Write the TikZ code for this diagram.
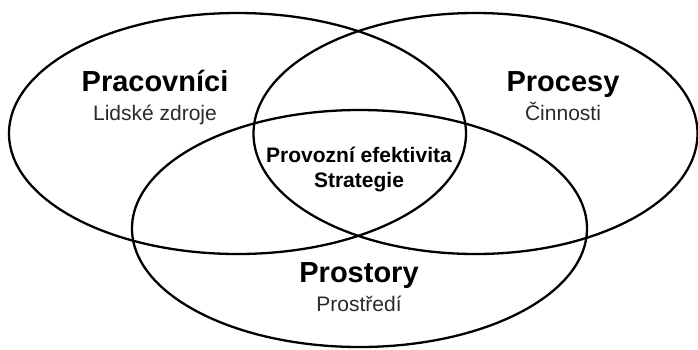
\documentclass[tikz,border=0pt]{standalone}
\usepackage{fontspec}
\setmainfont{Liberation Sans}
\definecolor{subgray}{HTML}{2A2A2A}
\begin{document}
\begin{tikzpicture}[x=1pt,y=-1pt,
  ring/.style={draw=black,line width=2.3pt},
  title/.style={anchor=base,font=\fontsize{29}{32}\selectfont\bfseries,text=black,inner sep=0pt},
  sub/.style={anchor=base,font=\fontsize{21}{24}\selectfont,text=subgray,inner sep=0pt},
  core/.style={anchor=base,font=\fontsize{21}{24}\selectfont\bfseries,text=black,inner sep=0pt}]
\useasboundingbox (0,0) rectangle (698,349);
\draw[ring] (237.5,133.5) ellipse [x radius=228.5, y radius=120.5];
\draw[ring] (475.5,133.5) ellipse [x radius=222, y radius=120.5];
\draw[ring] (359.5,228.5) ellipse [x radius=227.5, y radius=118.5];
\node[title] (prac) at (155,91) {Pracovníci};
\node[sub] (lidske) at (155,120) {Lidské zdroje};
\node[title] (proc) at (563,91) {Procesy};
\node[sub] (cinn) at (563,120) {Činnosti};
\node[title] (prost) at (359,282) {Prostory};
\node[sub] (prostr) at (359,311) {Prostředí};
\node[core] (prov) at (359,162) {Provozní efektivita};
\node[core] (strat) at (359,187) {Strategie};
\end{tikzpicture}
\end{document}
